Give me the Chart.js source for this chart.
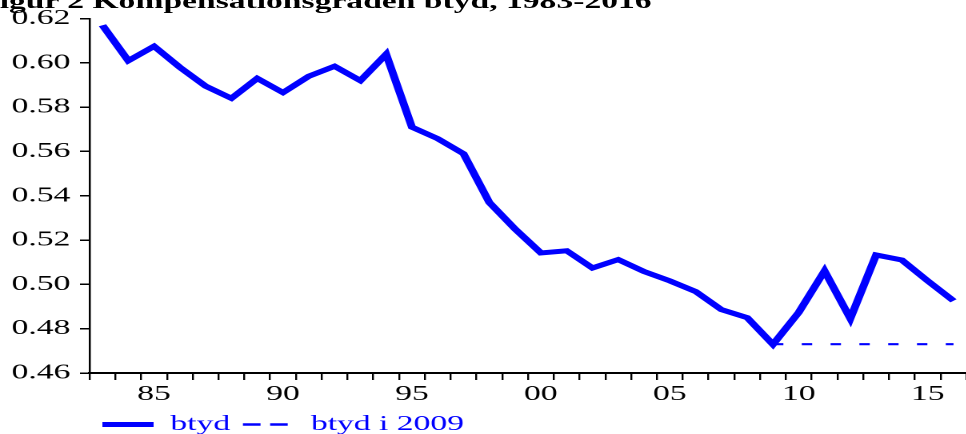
<!DOCTYPE html>
<html>
<head>
<meta charset="utf-8">
<script src="https://cdn.jsdelivr.net/npm/chart.js@4/dist/chart.umd.min.js"></script>
<style>
html, body { margin: 0; padding: 0; background: #fff; overflow: hidden; }
#wrap { position: absolute; left: 0; top: 0; width: 604px; height: 434px; transform: scaleX(1.6); transform-origin: 0 0; }
#chart { position: absolute; left: 0; top: 0; }
#title { position: absolute; left: -13px; top: -9px; font: bold 21px "Liberation Serif"; line-height: 21px; white-space: nowrap; color: #000; }
</style>
</head>
<body>
<div id="wrap">
  <canvas id="chart" width="604" height="434"></canvas>
  <div id="title">Figur 2 Kompensationsgraden btyd, 1983-2016</div>
</div>
<script>
const years = [1983, 1984, 1985, 1986, 1987, 1988, 1989, 1990, 1991, 1992, 1993, 1994,
    1995, 1996, 1997, 1998, 1999, 2000, 2001, 2002, 2003, 2004, 2005, 2006,
    2007, 2008, 2009, 2010, 2011, 2012, 2013, 2014, 2015, 2016];

const btyd = [0.617, 0.601, 0.6075, 0.598, 0.5895, 0.584, 0.593, 0.5866, 0.594, 0.5985, 0.592, 0.6039,
    0.571, 0.5658, 0.559, 0.537, 0.525, 0.5142, 0.5152, 0.5074, 0.5112, 0.5058, 0.5016, 0.4968,
    0.4886, 0.485, 0.4729, 0.4874, 0.5061, 0.4846, 0.5133, 0.511, 0.5016, 0.4926];

const btyd2009 = [null, null, null, null, null, null, null, null, null, null, null, null,
    null, null, null, null, null, null, null, null, null, null, null, null,
    null, null, 0.473, 0.473, 0.473, 0.473, 0.473, 0.473, 0.473, 0.473];

const yTicks = [0.46, 0.48, 0.50, 0.52, 0.54, 0.56, 0.58, 0.60, 0.62];

const blue = "#0000ff";
const serif = "Liberation Serif";

new Chart(document.getElementById("chart"), {
    type: "line",
    data: {
        labels: years,
        datasets: [{
            label: "btyd",
            data: btyd,
            borderColor: blue,
            backgroundColor: blue,
            borderWidth: 5,
            pointRadius: 0,
            tension: 0
        }, {
            label: "btyd i 2009",
            data: btyd2009,
            borderColor: blue,
            backgroundColor: blue,
            borderWidth: 2.2,
            borderDash: [6.5, 11.5],
            pointRadius: 0,
            tension: 0
        }]
    },
    options: {
        responsive: false,
        devicePixelRatio: 2,
        animation: false,
        events: [],
        layout: {padding: {top: 16, left: 0, right: 0, bottom: -11}},
        plugins: {
            tooltip: {enabled: false},
            legend: {
                position: "bottom",
                align: "start",
                fullSize: false,
                labels: {
                    usePointStyle: true,
                    pointStyleWidth: 32,
                    padding: 8,
                    color: blue,
                    font: {family: serif, size: 21},
                    generateLabels: () => [
                        {text: "btyd", strokeStyle: blue, fillStyle: blue, fontColor: blue, lineWidth: 5, lineDash: [], pointStyle: "line", datasetIndex: 0},
                        {text: "btyd i 2009", strokeStyle: blue, fillStyle: blue, fontColor: blue, lineWidth: 2.5, lineDash: [11, 6], pointStyle: "line", datasetIndex: 1}
                    ]
                }
            }
        },
        scales: {
            x: {
                type: "category",
                offset: true,
                grid: {offset: true, drawOnChartArea: false, drawTicks: true, tickLength: 7, color: "#000", lineWidth: 1.2},
                border: {color: "#000", width: 2},
                ticks: {
                    autoSkip: false,
                    maxRotation: 0,
                    padding: 2,
                    color: "#000",
                    font: {family: serif, size: 21},
                    callback: (v, i) => years[i] % 5 === 0 ? String(years[i]).slice(2) : ""
                },
                afterFit: s => { s.height = 33; }
            },
            y: {
                min: 0.46,
                max: 0.62,
                afterBuildTicks: s => { s.ticks = yTicks.map(v => ({value: v})); },
                grid: {drawOnChartArea: false, tickLength: 6, color: "#000", lineWidth: 1.5},
                border: {color: "#000", width: 1.25},
                ticks: {
                    padding: 6,
                    color: "#000",
                    font: {family: serif, size: 21},
                    callback: v => v.toFixed(2)
                },
                afterFit: s => { s.width = 56; }
            }
        }
    }
});
</script>
</body>
</html>
